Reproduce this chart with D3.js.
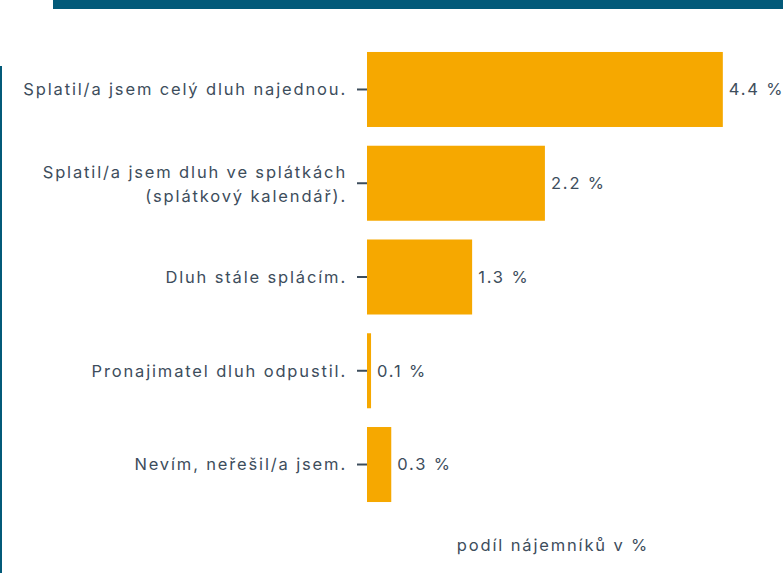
<!DOCTYPE html>
<html>
<head>
<meta charset="utf-8">
<script src="https://cdn.jsdelivr.net/npm/d3@7"></script>
<style>
  body { margin: 0; background: #fff; }
  svg text { font-family: Inter, "Noto Sans", sans-serif; fill: #3d4d5c; letter-spacing: 1.85px; }
</style>
</head>
<body>
<div id="chart"></div>
<script>
const categories = [
  ['Splatil/a jsem celý dluh najednou.'],
  ['Splatil/a jsem dluh ve splátkách', '(splátkový kalendář).'],
  ['Dluh stále splácím.'],
  ['Pronajimatel dluh odpustil.'],
  ['Nevím, neřešil/a jsem.']
]
const values = [4.4, 2.2, 1.3, 0.05, 0.3]
const axisTitle = 'podíl nájemníků v %'

const width = 783, height = 573
const teal = '#035a79'
const orange = '#f6a800'
const textColor = '#3d4d5c'
const fontSize = 16.5

let svg = d3.select('#chart').append('svg')
.attr('width', width)
.attr('height', height)

// decorative frame pieces
svg.append('rect').attr('x', 53).attr('y', 0).attr('width', width - 53).attr('height', 9).attr('fill', teal)
svg.append('rect').attr('x', 0).attr('y', 66).attr('width', 2).attr('height', height - 66).attr('fill', teal)

const keys = d3.range(values.length)

let xScale = d3.scaleLinear()
.domain([0, 4.6])
.range([367, 739])

let yScale = d3.scaleBand()
.domain(keys)
.range([42.6, 511.4])
.paddingInner(0.2)
.paddingOuter(0.1)

let yaxis = svg.append('g')
.attr('transform', `translate(${xScale(0)},0)`)
.call(d3.axisLeft(yScale).tickSize(10).tickPadding(12).tickFormat(''))

yaxis.select('.domain').remove()
yaxis.selectAll('.tick line').attr('stroke', textColor).attr('stroke-width', 2)

yaxis.selectAll('.tick text').each(function(d) {
  let t = d3.select(this)
  .attr('font-size', fontSize)
  .attr('fill', textColor)
  .attr('dy', null)
  let lines = categories[d]
  lines.forEach((l, i) => {
    t.append('tspan')
    .attr('x', -20)
    .attr('dy', i === 0 ? (lines.length > 1 ? '-0.3em' : '0.35em') : '1.45em')
    .text(l)
  })
})

svg.append('g')
.selectAll('rect')
.data(values)
.join('rect')
.attr('x', xScale(0))
.attr('y', (d, i) => yScale(i))
.attr('width', d => xScale(d) - xScale(0))
.attr('height', yScale.bandwidth())
.attr('fill', orange)

svg.append('g')
.selectAll('text')
.data(values)
.join('text')
.attr('x', d => xScale(d) + 6)
.attr('y', (d, i) => yScale(i) + yScale.bandwidth() / 2)
.attr('dy', '0.35em')
.attr('font-size', fontSize)
.text(d => d3.format('.1f')(d) + ' %')

svg.append('text')
.attr('x', (xScale.range()[0] + xScale.range()[1]) / 2)
.attr('y', 545)
.attr('dy', '0.35em')
.attr('text-anchor', 'middle')
.attr('font-size', fontSize)
.text(axisTitle)
</script>
</body>
</html>
